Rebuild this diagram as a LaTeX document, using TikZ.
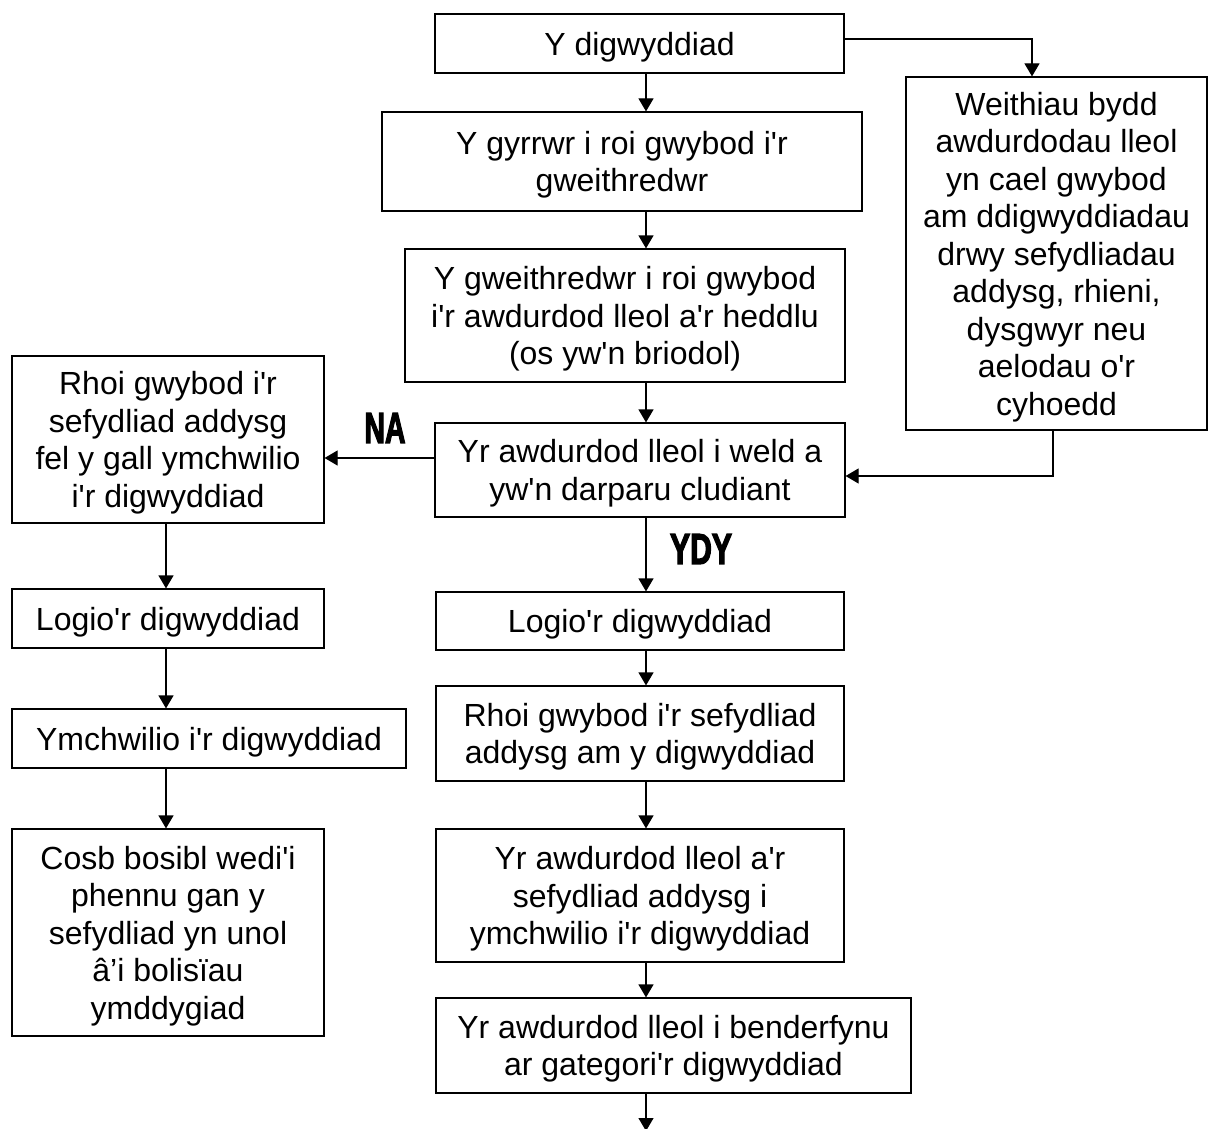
\documentclass[tikz,border=0pt]{standalone}
\usepackage{fontspec}
\setmainfont{Liberation Sans}[Ligatures=TeXOff]
\newfontfamily\tagfont{Liberation Sans Bold}[FakeBold=3.5]
\usepackage{graphicx}
\usetikzlibrary{arrows.meta}

\begin{document}
\begin{tikzpicture}[x=1pt, y=-1pt,
    every node/.append style={font=\fontsize{32}{37.5}\selectfont},
    box/.style={draw, line width=1.2pt, align=center, inner sep=0pt, text depth=0pt},
    arr/.style={line width=1.2pt, -{Triangle[length=13pt, width=15pt]}},
    tag/.style={font=\tagfont\fontsize{43}{43}\selectfont, inner sep=0pt}]

    \useasboundingbox (0,0) rectangle (1208,1129);

    \coordinate (axis) at (646,0);     % main column arrows
    \coordinate (laxis) at (166,0);    % left column arrows

    % Main column
    \node[box, minimum width=409, minimum height=59]  (b1) at (639.5,43.5) {Y digwyddiad};
    \node[box, minimum width=480, minimum height=99]  (b2) at (622,161.5) {Y gyrrwr i roi gwybod i'r\\gweithredwr};
    \node[box, minimum width=440, minimum height=133] (b3) at (625,315.5) {Y gweithredwr i roi gwybod\\i'r awdurdod lleol a'r heddlu\\(os yw'n briodol)};
    \node[box, minimum width=410, minimum height=94]  (b4) at (640,470) {Yr awdurdod lleol i weld a\\yw'n darparu cludiant};
    \node[box, minimum width=408, minimum height=58]  (b5) at (640,621) {Logio'r digwyddiad};
    \node[box, minimum width=408, minimum height=95]  (b6) at (640,733.5) {Rhoi gwybod i'r sefydliad\\addysg am y digwyddiad};
    \node[box, minimum width=408, minimum height=133] (b7) at (640,895.5) {Yr awdurdod lleol a'r\\sefydliad addysg i\\ymchwilio i'r digwyddiad};
    \node[box, minimum width=475, minimum height=95]  (b8) at (673.5,1045.5) {Yr awdurdod lleol i benderfynu\\ar gategori'r digwyddiad};
    \coordinate (end) at (646,1131);

    % Side box
    \node[box, minimum width=301, minimum height=353] (w) at (1056.5,253.5) {Weithiau bydd\\awdurdodau lleol\\yn cael gwybod\\am ddigwyddiadau\\drwy sefydliadau\\addysg, rhieni,\\dysgwyr neu\\aelodau o'r\\cyhoedd};

    % Left column
    \node[box, minimum width=312, minimum height=167] (l1) at (168,439.5) {Rhoi gwybod i'r\\sefydliad addysg\\fel y gall ymchwilio\\i'r digwyddiad};
    \node[box, minimum width=312, minimum height=59]  (l2) at (168,618.5) {Logio'r digwyddiad};
    \node[box, minimum width=394, minimum height=59]  (l3) at (209,738.5) {Ymchwilio i'r digwyddiad};
    \node[box, minimum width=312, minimum height=207] (l4) at (168,932.5) {Cosb bosibl wedi'i\\phennu gan y\\sefydliad yn unol\\â’i bolisïau\\ymddygiad};

    % Answers
    \node[tag] (na)  at (385,428) {\scalebox{0.66}[1]{NA}};
    \node[tag] (ydy) at (701,549) {\scalebox{0.7}[1]{YDY}};

    \draw[arr] (b1.south -| axis) -- (b2.north -| axis);
    \draw[arr] (b2.south -| axis) -- (b3.north -| axis);
    \draw[arr] (b3.south -| axis) -- (b4.north -| axis);
    \draw[arr] (b4.south -| axis) -- (b5.north -| axis);
    \draw[arr] (b5.south -| axis) -- (b6.north -| axis);
    \draw[arr] (b6.south -| axis) -- (b7.north -| axis);
    \draw[arr] (b7.south -| axis) -- (b8.north -| axis);
    \draw[arr] (b8.south -| axis) -- (end);

    \draw[arr] ([yshift=4.5pt]b1.east) -| ([xshift=-24.5pt]w.north);
    \draw[arr] ([xshift=-3.5pt]w.south) |- ([yshift=-6pt]b4.east);
    \draw[arr] ([yshift=12pt]b4.west) -- ([yshift=12pt]b4.west -| l1.east);

    \draw[arr] (l1.south -| laxis) -- (l2.north -| laxis);
    \draw[arr] (l2.south -| laxis) -- (l3.north -| laxis);
    \draw[arr] (l3.south -| laxis) -- (l4.north -| laxis);

\end{tikzpicture}
\end{document}
